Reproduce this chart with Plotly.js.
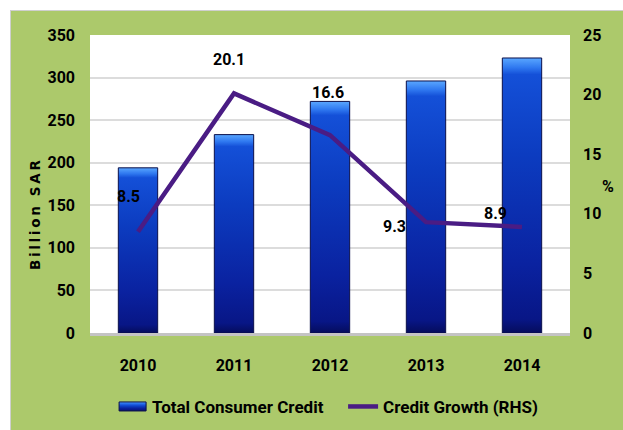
<!DOCTYPE html>
<html>
<head>
<meta charset="utf-8">
<script src="https://cdn.plot.ly/plotly-3.0.1.min.js"></script>
<style>
  html, body { margin: 0; padding: 0; background: #ffffff; width: 623px; height: 430px; overflow: hidden; }
  #frame { position: absolute; left: 10px; top: 10px; width: 613px; height: 420px; overflow: hidden;
           border-left: 1px solid #cfcfcf; border-top: 1px solid #cfcfcf; background: #acc96b; }
  #chart { position: absolute; left: 0; top: 0; width: 612px; height: 450px; }
</style>
</head>
<body>
<div id="frame"><div id="chart"></div></div>
<script>
// ---- data ----
const years = ['2010', '2011', '2012', '2013', '2014'];
const consumerCredit = [194, 233, 272, 296, 323];        // Billion SAR
const creditGrowth = [8.5, 20.1, 16.6, 9.3, 8.9];        // %
const growthLabels = ['8.5', '20.1', '16.6', '9.3', '8.9'];
const seriesNames = ['Total Consumer Credit', 'Credit Growth (RHS)'];
const leftAxisTitle = 'Billion SAR';
const rightAxisTitle = '%';

// ---- style ----
const FONT = 'Roboto, "DejaVu Sans", sans-serif';
const labelShifts = [[-10, 35], [-5, 34], [-2, 43], [-32, -4], [-27, 13]];

function spaced(s) { return s.split('').join('\u2009'); }

const traces = [
  {
    type: 'bar', x: years, y: consumerCredit, name: seriesNames[0],
    marker: { color: '#0b2aa8', line: { color: '#0a0f4a', width: 1 } },
    width: 0.41, yaxis: 'y', hoverinfo: 'skip'
  },
  {
    type: 'scatter', mode: 'lines', x: years, y: creditGrowth, name: seriesNames[1],
    line: { color: '#4a1c84', width: 4.5 }, yaxis: 'y2', hoverinfo: 'skip'
  }
];

// annotations on a category axis take the category index
const annotations = creditGrowth.map((v, i) => ({
  x: i, y: v, xref: 'x', yref: 'y2', text: growthLabels[i], showarrow: false,
  xshift: labelShifts[i][0], yshift: labelShifts[i][1],
  font: { family: FONT, size: 16, color: '#000000', weight: 'bold' }
}));
annotations.push({
  xref: 'paper', yref: 'paper', x: -0.1146, y: 0.399, text: spaced(leftAxisTitle),
  textangle: -90, showarrow: false, xanchor: 'center', yanchor: 'middle',
  font: { family: '"DejaVu Sans", sans-serif', size: 13.5, color: '#000000', weight: 'bold' }
});
annotations.push({
  xref: 'paper', yref: 'paper', x: 1.08, y: 0.49, text: rightAxisTitle,
  showarrow: false, xanchor: 'center', yanchor: 'middle',
  font: { family: FONT, size: 16, color: '#000000', weight: 'bold' }
});

const layout = {
  width: 612, height: 450,
  margin: { l: 79, r: 53, t: 24, b: 128 },
  paper_bgcolor: 'rgba(0,0,0,0)', plot_bgcolor: '#ffffff',
  showlegend: true,
  font: { family: FONT, size: 16, color: '#000000', weight: 'bold' },
  xaxis: {
    type: 'category', range: [-0.5, 4.5], autorange: false, showgrid: false, ticks: '',
    showline: true, linecolor: '#c4c4c4', linewidth: 3,
    ticklabelstandoff: 16, tickfont: { family: FONT, size: 16, color: '#000000', weight: 'bold' },
    fixedrange: true
  },
  yaxis: {
    range: [0, 350], autorange: false, dtick: 50, tick0: 0, showgrid: true, gridcolor: '#dcdcdc', gridwidth: 2,
    zeroline: false, ticks: '', ticklabelstandoff: 14,
    tickfont: { family: FONT, size: 16, color: '#000000', weight: 'bold' }, fixedrange: true
  },
  yaxis2: {
    overlaying: 'y', side: 'right', range: [0, 25], autorange: false, dtick: 5, tick0: 0, showgrid: false,
    zeroline: false, ticks: '', ticklabelstandoff: 12,
    tickfont: { family: FONT, size: 16, color: '#000000', weight: 'bold' }, fixedrange: true
  },
  legend: {
    orientation: 'h', x: 0.046, xanchor: 'left', y: -0.248, yanchor: 'middle',
    bgcolor: 'rgba(0,0,0,0)', font: { family: FONT, size: 17, color: '#000000', weight: 'bold' },
    itemwidth: 30, traceorder: 'normal', entrywidth: 186, entrywidthmode: 'pixels'
  },
  annotations: annotations,
  bargap: 0.59
};

Plotly.newPlot('chart', traces, layout, { displayModeBar: false, staticPlot: true }).then(gd => {
  // vertical blue gradient fill for the bars (visual styling only)
  const svg = gd.querySelector('svg.main-svg');
  const ns = 'http://www.w3.org/2000/svg';
  let defs = svg.querySelector('defs');
  if (!defs) { defs = document.createElementNS(ns, 'defs'); svg.insertBefore(defs, svg.firstChild); }
  const grad = document.createElementNS(ns, 'linearGradient');
  grad.setAttribute('id', 'barGrad');
  grad.setAttribute('x1', '0'); grad.setAttribute('y1', '0');
  grad.setAttribute('x2', '0'); grad.setAttribute('y2', '1');
  [['0', '#5aa7ff'], ['0.035', '#2f78f0'], ['0.06', '#1450d8'], ['0.35', '#0c3cc0'],
   ['0.75', '#0a22a0'], ['0.95', '#081686'], ['1', '#050c5c']].forEach(([o, c]) => {
    const s = document.createElementNS(ns, 'stop');
    s.setAttribute('offset', o); s.setAttribute('stop-color', c);
    grad.appendChild(s);
  });
  defs.appendChild(grad);
  const lgrad = grad.cloneNode(true);
  lgrad.setAttribute('id', 'legGrad');
  lgrad.querySelectorAll('stop').forEach((s, k) => {
    s.setAttribute('offset', ['0', '0.15', '0.35', '0.5', '0.7', '0.9', '1'][k]);
  });
  defs.appendChild(lgrad);
  gd.querySelectorAll('.barlayer .point path').forEach(p => { p.style.fill = 'url(#barGrad)'; });
  gd.querySelectorAll('.legend .legendpoints .legendbar path, .legend .legendpoints path.legendundefined').forEach(p => {
    p.setAttribute('d', 'M14,4.5H-13V-4.5H14Z');
    p.style.fill = 'url(#legGrad)';
  });
});
</script>
</body>
</html>
